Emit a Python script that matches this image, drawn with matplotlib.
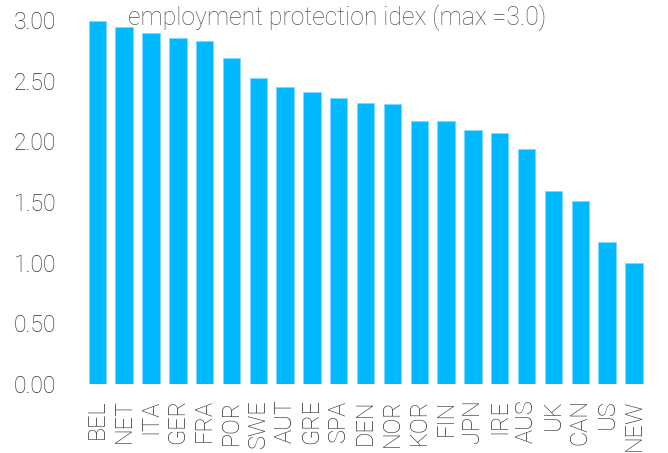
import matplotlib
matplotlib.use("Agg")
import matplotlib.pyplot as plt
import numpy as np

# Country codes and their employment protection index
countries = ["BEL", "NET", "ITA", "GER", "FRA", "POR", "SWE", "AUT", "GRE", "SPA",
             "DEN", "NOR", "KOR", "FIN", "JPN", "IRE", "AUS", "UK", "CAN", "US", "NEW"]
epi_values = [2.99, 2.94, 2.89, 2.85, 2.83, 2.69, 2.52, 2.45, 2.41, 2.36,
              2.32, 2.31, 2.17, 2.17, 2.09, 2.07, 1.94, 1.59, 1.51, 1.17, 1.00]
y_ticks = [0.0, 0.5, 1.0, 1.5, 2.0, 2.5, 3.0]

plt.rcParams["font.family"] = ["Roboto", "DejaVu Sans"]

fig = plt.figure(figsize=(6.68, 4.53), dpi=100)
ax = fig.add_axes([0.1256, 0.1523, 0.8434, 0.8035])

x = np.arange(len(countries))
ax.bar(x, epi_values, width=0.65, color="#00B9FF", edgecolor="#7FD8FF", linewidth=0.6)

ax.set_xlim(-0.5, len(countries) - 0.5)
ax.set_ylim(0, 3.0)
ax.set_yticks(y_ticks)
ax.set_yticklabels([f"{v:.2f}" for v in y_ticks], fontsize=16.5, color="#333333",
                   fontweight="light")
ax.set_xticks(x)
ax.set_xticklabels(countries, rotation=90, fontsize=17, color="#333333",
                   fontweight="light")
ax.tick_params(length=0, pad=11)
ax.tick_params(axis="y", pad=20)

for s in ax.spines.values():
    s.set_visible(False)

fig.text(0.504, 1 - 18 / 453, "employment protection idex (max =3.0)",
         ha="center", va="center", fontsize=17.8, color="#555555", fontweight="light")

plt.savefig("out.png", dpi=100, facecolor="white")
plt.close()
